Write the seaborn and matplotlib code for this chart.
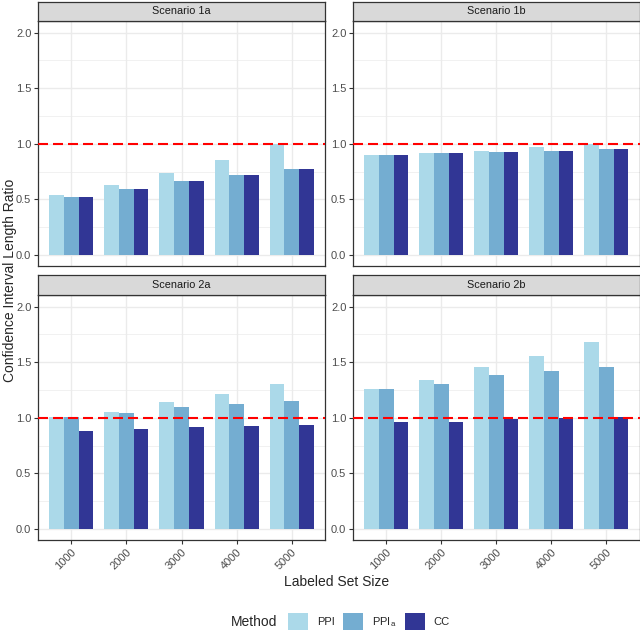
import matplotlib
matplotlib.use("Agg")
import matplotlib.pyplot as plt
import seaborn as sns
import pandas as pd
from matplotlib.patches import Patch
from matplotlib.ticker import MultipleLocator, FormatStrFormatter

# valeurs
SIZES = ["1000", "2000", "3000", "4000", "5000"]
METHODS = ["PPI", "PPI$_a$", "CC"]
SCENARIOS = ["Scenario 1a", "Scenario 1b", "Scenario 2a", "Scenario 2b"]

ppi_1a = [0.535, 0.625, 0.739, 0.856, 1.000]
ppia_1a = [0.523, 0.596, 0.661, 0.721, 0.772]
cc_1a = [0.522, 0.596, 0.661, 0.721, 0.772]

ppi_1b = [0.901, 0.919, 0.937, 0.970, 1.002]
ppia_1b = [0.901, 0.913, 0.925, 0.937, 0.949]
cc_1b = [0.901, 0.915, 0.925, 0.937, 0.949]

ppi_2a = [1.010, 1.054, 1.144, 1.213, 1.305]
ppia_2a = [1.005, 1.039, 1.096, 1.126, 1.147]
cc_2a = [0.880, 0.895, 0.913, 0.928, 0.937]

ppi_2b = [1.263, 1.339, 1.458, 1.557, 1.680]
ppia_2b = [1.257, 1.308, 1.389, 1.425, 1.455]
cc_2b = [0.958, 0.964, 0.985, 0.994, 1.003]

COULEURS = ["#abd9e9", "#74add1", "#313695"]

series = {
    "Scenario 1a": [ppi_1a, ppia_1a, cc_1a],
    "Scenario 1b": [ppi_1b, ppia_1b, cc_1b],
    "Scenario 2a": [ppi_2a, ppia_2a, cc_2a],
    "Scenario 2b": [ppi_2b, ppia_2b, cc_2b],
}

lignes = []
for sc, vals in series.items():
    for m, v in zip(METHODS, vals):
        for s, y in zip(SIZES, v):
            lignes.append({"scenario": sc, "size": s, "method": m, "ratio": y})
df = pd.DataFrame(lignes)

sns.set_style("white")
plt.rcParams["font.family"] = ["Liberation Sans", "DejaVu Sans"]
plt.rcParams["mathtext.default"] = "regular"

W, H = 640, 632
fig = plt.figure(figsize=(W / 100, H / 100), dpi=100)


def boite(x0, y0, x1, y1):
    return [x0 / W, (H - y1) / H, (x1 - x0) / W, (y1 - y0) / H]


cols = [(38.3, 324.7), (353.3, 639.5)]
rangs = [(2, 21, 266), (275, 295, 540)]
grey20 = "#333333"
grey30 = "#4d4d4d"

for i, sc in enumerate(SCENARIOS):
    r, c = divmod(i, 2)
    x0, x1 = cols[c]
    ys, yp, yb = rangs[r]
    ax = fig.add_axes(boite(x0, yp, x1, yb))
    sns.barplot(data=df[df["scenario"] == sc], x="size", y="ratio", hue="method",
                hue_order=METHODS, order=SIZES, palette=COULEURS, saturation=1,
                width=0.8, linewidth=0, legend=False, ax=ax, zorder=2)
    ax.axhline(1.0, color="red", linestyle=(0, (4.8, 2.4)), linewidth=1.5, zorder=3)
    ax.set_xlim(-0.6, 4.6)
    ax.set_ylim(-0.1, 2.105)
    ax.yaxis.set_major_locator(MultipleLocator(0.5))
    ax.yaxis.set_minor_locator(MultipleLocator(0.25))
    ax.yaxis.set_major_formatter(FormatStrFormatter("%.1f"))
    ax.grid(True, which="major", color="#ebebeb", linewidth=1.0, zorder=0)
    ax.grid(True, which="minor", axis="y", color="#ebebeb", linewidth=0.5, zorder=0)
    ax.set_axisbelow(True)
    ax.set_xlabel("")
    ax.set_ylabel("")
    for sp in ax.spines.values():
        sp.set_color(grey20)
        sp.set_linewidth(0.9)
    ax.tick_params(which="major", length=3, width=0.8, color=grey20,
                   labelsize=8, labelcolor=grey30, left=True, bottom=True, pad=2)
    ax.tick_params(which="minor", length=0)
    if r == 0:
        # pas d'axe x sur la rangée du haut (comme facet_wrap)
        ax.tick_params(axis="x", labelbottom=False, bottom=False)
    else:
        for lab in ax.get_xticklabels():
            lab.set_rotation(45)
            lab.set_ha("right")
            lab.set_rotation_mode("anchor")

    # bandeau du facet
    st = fig.add_axes(boite(x0, ys, x1, yp))
    st.set_facecolor("#d9d9d9")
    st.set_xticks([])
    st.set_yticks([])
    for sp in st.spines.values():
        sp.set_color(grey20)
        sp.set_linewidth(0.9)
    st.text(0.5, 0.5, sc, ha="center", va="center", fontsize=7.8, color="#1a1a1a",
            transform=st.transAxes)

fig.text(10 / W, 1 - 280 / H, "Confidence Interval Length Ratio", rotation=90,
         ha="center", va="center", fontsize=10)
fig.text(337 / W, 1 - 582 / H, "Labeled Set Size", ha="center", va="center", fontsize=10)

# légende
fig.text(231 / W, 1 - 621.5 / H, "Method", ha="left", va="center", fontsize=10)
poignees = [Patch(facecolor=col, edgecolor="none", label=m) for m, col in zip(METHODS, COULEURS)]
fig.legend(handles=poignees, ncol=3, loc="center left", bbox_to_anchor=(288 / W, 1 - 621.5 / H),
           frameon=False, fontsize=8, handlelength=1.8, handleheight=1.9,
           handletextpad=0.8, columnspacing=0.75, borderpad=0, borderaxespad=0)

fig.savefig("out.png", dpi=100)
